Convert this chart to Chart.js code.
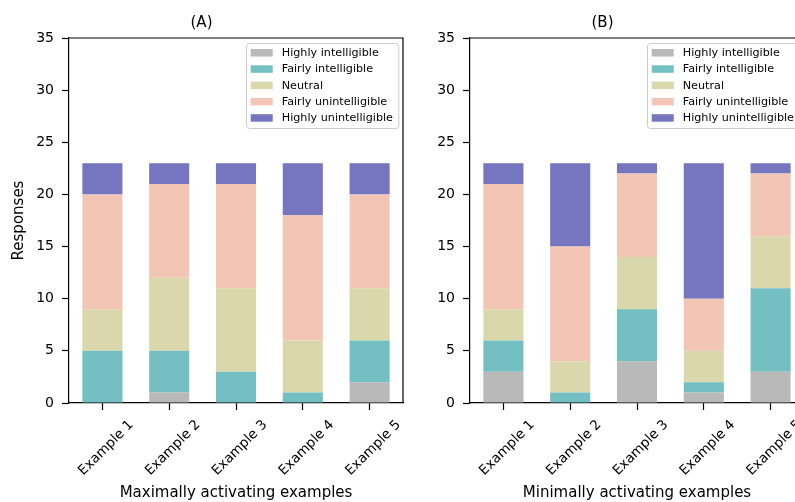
<!DOCTYPE html>
<html>
<head>
<meta charset="utf-8">
<script src="https://cdn.jsdelivr.net/npm/chart.js@4.4.0/dist/chart.umd.min.js"></script>
<style>
  html, body { margin: 0; padding: 0; background: #fff; }
  #wrap { position: relative; width: 795px; height: 502px; overflow: hidden; }
  .panel { position: absolute; top: 0; width: 420px; height: 502px; }
</style>
</head>
<body>
<div id="wrap">
  <div class="panel" style="left:0"><canvas id="chartA" width="420" height="502"></canvas></div>
  <div class="panel" style="left:401px"><canvas id="chartB" width="420" height="502"></canvas></div>
</div>
<script>
const categories = ["Example 1", "Example 2", "Example 3", "Example 4", "Example 5"];
const levels = ["Highly intelligible", "Fairly intelligible", "Neutral", "Fairly unintelligible", "Highly unintelligible"];
const levelColors = ["#b9b9b9", "#74bfc1", "#dbd7ad", "#f2c5b5", "#7575c0"];

// (A) maximally activating examples
const maxHighlyIntelligible = [0, 1, 0, 0, 2];
const maxFairlyIntelligible = [5, 4, 3, 1, 4];
const maxNeutral = [4, 7, 8, 5, 5];
const maxFairlyUnintelligible = [11, 9, 10, 12, 9];
const maxHighlyUnintelligible = [3, 2, 2, 5, 3];

// (B) minimally activating examples
const minHighlyIntelligible = [3, 0, 4, 1, 3];
const minFairlyIntelligible = [3, 1, 5, 1, 8];
const minNeutral = [3, 3, 5, 3, 5];
const minFairlyUnintelligible = [12, 11, 8, 5, 6];
const minHighlyUnintelligible = [2, 8, 1, 13, 1];

const yTicks = [0, 5, 10, 15, 20, 25, 30, 35];

const FONT = '"DejaVu Sans", sans-serif';

// top + right spines
const frame = {
  id: 'frame',
  afterDatasetsDraw(chart) {
    const { ctx, chartArea: a } = chart;
    ctx.save();
    ctx.strokeStyle = '#000';
    ctx.lineWidth = 1.2;
    ctx.beginPath();
    ctx.moveTo(a.left, a.top);
    ctx.lineTo(a.right, a.top);
    ctx.lineTo(a.right, a.bottom);
    ctx.stroke();
    ctx.restore();
  }
};

// matplotlib-like legend box in the upper right of the plot
const boxLegend = {
  id: 'boxLegend',
  afterDraw(chart) {
    const { ctx, chartArea: a } = chart;
    ctx.save();
    ctx.font = '11.2px ' + FONT;
    const sets = chart.data.datasets;
    const textW = Math.max(...sets.map(d => ctx.measureText(d.label).width));
    const w = 5 + 22 + 9 + textW + 5;
    const h = 85;
    const x = a.right - 5 - w, y = a.top + 5;
    ctx.fillStyle = 'rgba(255,255,255,0.85)';
    ctx.strokeStyle = '#cccccc';
    ctx.lineWidth = 1;
    ctx.beginPath();
    ctx.roundRect(Math.round(x) + 0.5, Math.round(y) + 0.5, w, h, 3);
    ctx.fill();
    ctx.stroke();
    ctx.textBaseline = 'middle';
    sets.forEach((d, i) => {
      const cy = y + 10 + i * 16.3;
      ctx.fillStyle = d.backgroundColor;
      ctx.fillRect(x + 5, cy - 4, 22, 7.5);
      ctx.fillStyle = '#000';
      ctx.fillText(d.label, x + 36, cy);
    });
    ctx.restore();
  }
};

function makeChart(id, title, xTitle, showYTitle, series) {
  return new Chart(document.getElementById(id), {
    type: 'bar',
    data: {
      labels: categories,
      datasets: series.map((vals, i) => ({
        label: levels[i],
        data: vals,
        backgroundColor: levelColors[i],
        borderWidth: 0,
        barPercentage: 0.6,
        categoryPercentage: 1.0
      }))
    },
    options: {
      responsive: false,
      animation: false,
      layout: { padding: { left: 0, right: 17, top: 0, bottom: 0 } },
      plugins: {
        legend: { display: false },
        tooltip: { enabled: false },
        title: {
          display: true,
          text: title,
          color: '#000',
          font: { family: FONT, size: 15, weight: 'normal' },
          padding: { top: 14, bottom: 6 }
        }
      },
      scales: {
        x: {
          stacked: true,
          offset: true,
          grid: { offset: false, drawOnChartArea: false, drawTicks: true, tickLength: 7, color: '#000', tickWidth: 1.2 },
          border: { display: true, color: '#000', width: 1.2 },
          ticks: {
            color: '#000',
            font: { family: FONT, size: 13.5 },
            minRotation: 45,
            maxRotation: 45,
            labelOffset: 29,
            padding: 7
          },
          title: {
            display: true,
            text: xTitle,
            color: '#000',
            font: { family: FONT, size: 15 },
            padding: { top: 0, bottom: 0 }
          },
          afterFit(scale) { scale.height = 99; }
        },
        y: {
          stacked: true,
          min: 0,
          max: 35,
          afterBuildTicks(scale) { scale.ticks = yTicks.map(v => ({ value: v })); },
          grid: { drawOnChartArea: false, drawTicks: true, tickLength: 7, color: '#000', tickWidth: 1.2 },
          border: { display: true, color: '#000', width: 1.2 },
          ticks: {
            color: '#000',
            font: { family: FONT, size: 14 },
            padding: 8
          },
          title: {
            display: showYTitle,
            text: 'Responses',
            color: '#000',
            font: { family: FONT, size: 15 },
            padding: { top: 10, bottom: 10 }
          },
          afterFit(scale) { scale.width = 69; }
        }
      }
    },
    plugins: [frame, boxLegend]
  });
}

makeChart('chartA', '(A)', 'Maximally activating examples', true,
  [maxHighlyIntelligible, maxFairlyIntelligible, maxNeutral, maxFairlyUnintelligible, maxHighlyUnintelligible]);
makeChart('chartB', '(B)', 'Minimally activating examples', false,
  [minHighlyIntelligible, minFairlyIntelligible, minNeutral, minFairlyUnintelligible, minHighlyUnintelligible]);
</script>
</body>
</html>
